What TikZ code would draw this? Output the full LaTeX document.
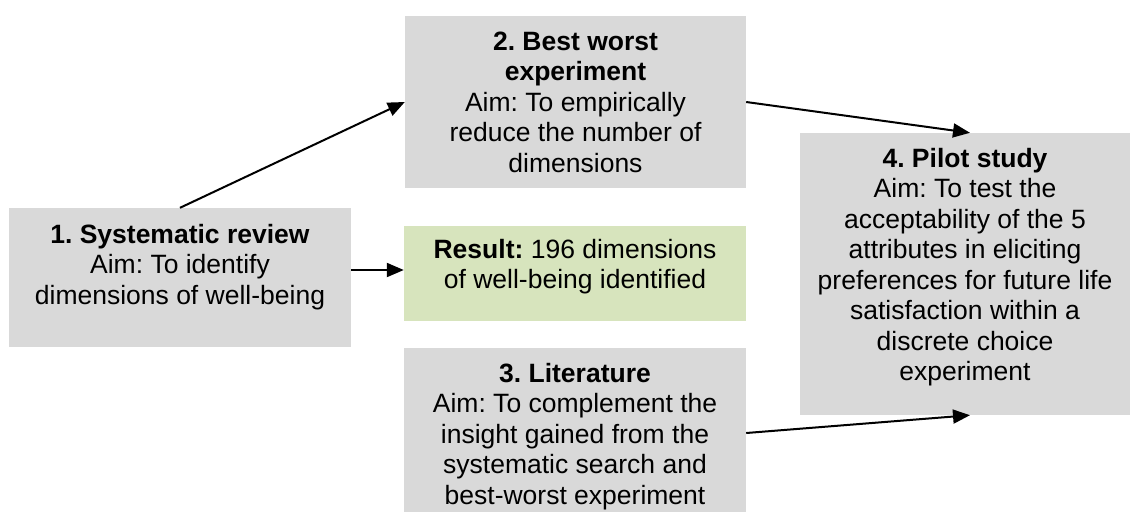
\documentclass[tikz,border=0pt]{standalone}
\usepackage{fontspec}
\setmainfont{Liberation Sans}
\usetikzlibrary{arrows.meta}
\definecolor{boxgray}{HTML}{D9D9D9}
\definecolor{boxgreen}{HTML}{D7E4BD}
\frenchspacing
\newcommand{\boxtext}[2]{\parbox[t]{#1pt}{\centering\fontsize{26.5}{30.5}\selectfont\frenchspacing #2}}
\tikzset{
  graybox/.style={draw=none, fill=boxgray, inner sep=0pt},
  greenbox/.style={draw=none, fill=boxgreen, inner sep=0pt},
  boxlabel/.style={anchor=base, inner sep=0pt, text=black},
  flow/.style={line width=2pt, -{Triangle[length=17pt,width=14pt]}},
}
\begin{document}
\begin{tikzpicture}[x=1pt,y=-1pt]
\useasboundingbox (0,0) rectangle (1131,512);
\fill[white] (0,0) rectangle (1131,512);
% boxes
\node[graybox, minimum width=342pt, minimum height=139pt] (b1) at (180,277.5) {};
\node[graybox, minimum width=341pt, minimum height=172pt] (b2) at (575.5,102) {};
\node[greenbox, minimum width=342pt, minimum height=95pt] (res) at (575,273.5) {};
\node[graybox, minimum width=342pt, minimum height=164pt] (b3) at (575,430) {};
\node[graybox, minimum width=330pt, minimum height=282pt] (b4) at (965,274) {};
% texts
\node[boxlabel] (t1) at (180,243) {\boxtext{336}{\textbf{1. Systematic review}\\Aim: To identify\\dimensions of well-being}};
\node[boxlabel] (t2) at (575.5,50) {\boxtext{330}{\textbf{2. Best worst}\\\textbf{experiment}\\Aim: To empirically\\reduce the number of\\dimensions}};
\node[boxlabel] (tr) at (575,258) {\boxtext{336}{\textbf{Result:} 196 dimensions\\of well-being identified}};
\node[boxlabel] (t3) at (575,382) {\boxtext{336}{\textbf{3. Literature}\\Aim: To complement the\\insight gained from the\\systematic search and\\best-worst experiment}};
\node[boxlabel] (t4) at (965,167) {\boxtext{326}{\textbf{4. Pilot study}\\Aim: To test the\\acceptability of the 5\\attributes in eliciting\\preferences for future life\\satisfaction within a\\discrete choice\\experiment}};
% connectors
\draw[flow] (b1.north) -- (b2.west);
\draw[flow] ([yshift=3.5pt]b1.east |- res.west) -- ([yshift=3.5pt]res.west);
\draw[flow] (b2.east) -- ([xshift=5pt]b4.north);
\draw[flow] ([yshift=-3pt]b3.east) -- ([xshift=5pt]b4.south);
\end{tikzpicture}
\end{document}
